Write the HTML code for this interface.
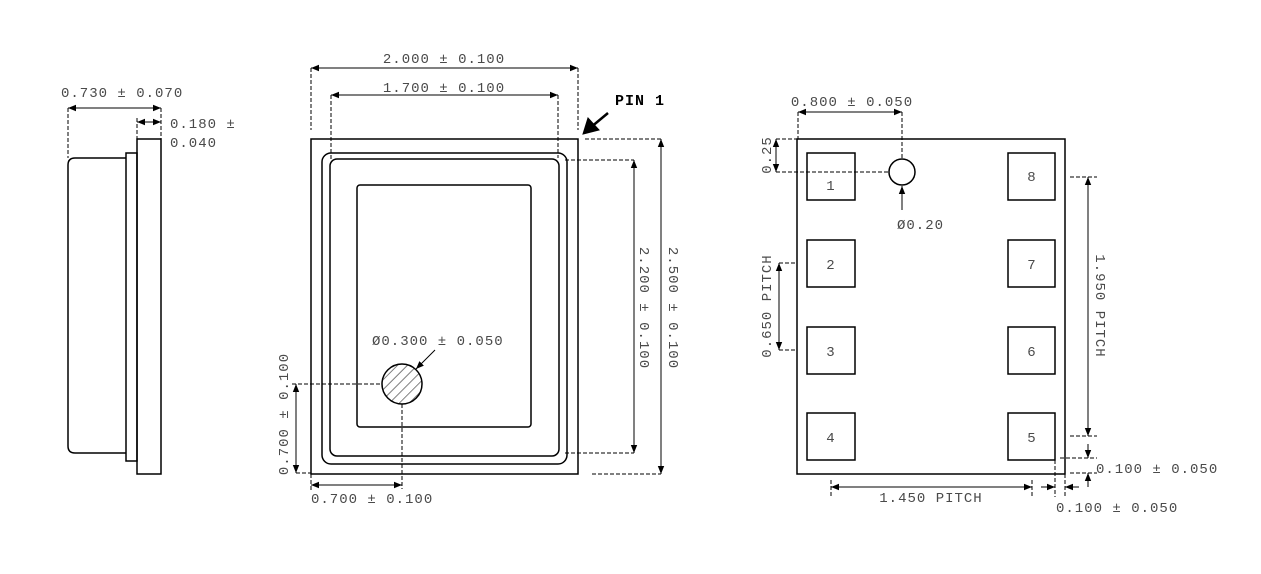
<!DOCTYPE html>
<html><head><meta charset="utf-8"><style>
html,body{margin:0;padding:0;background:#fff;}
svg{display:block;}
text{font-family:"Liberation Mono",monospace;font-size:14px;letter-spacing:1px;fill:#4a4a4a;}
</style></head><body>
<svg width="1261" height="574" viewBox="0 0 1261 574" xmlns="http://www.w3.org/2000/svg">
<defs>
<marker id="a" viewBox="0 0 10 10" refX="10" refY="5" markerWidth="8" markerHeight="8" orient="auto-start-reverse" markerUnits="userSpaceOnUse"><path d="M0,1 L10,5 L0,9 z" fill="#000"/></marker>
<pattern id="h" width="7" height="7" patternUnits="userSpaceOnUse" patternTransform="rotate(45)"><line x1="0" y1="0" x2="0" y2="7" stroke="#555" stroke-width="1.5"/></pattern>
</defs>
<g fill="none" stroke="#000" stroke-width="1.5">
<path d="M126,158 H75 Q68,158 68,165 V446 Q68,453 75,453 H126"/>
<rect x="126" y="153" width="11" height="308"/>
<rect x="137" y="139" width="24" height="335"/>
<rect x="311" y="139" width="267" height="335"/>
<rect x="322" y="153" width="245" height="311" rx="9"/>
<rect x="330" y="159" width="229" height="297" rx="7"/>
<rect x="357" y="185" width="174" height="242" rx="3"/>
<circle cx="402" cy="384" r="20" fill="url(#h)"/>
<rect x="797" y="139" width="268" height="335"/>
<rect x="807" y="153" width="48" height="47"/><rect x="807" y="240" width="48" height="47"/>
<rect x="807" y="327" width="48" height="47"/><rect x="807" y="413" width="48" height="47"/>
<rect x="1008" y="153" width="47" height="47"/><rect x="1008" y="240" width="47" height="47"/>
<rect x="1008" y="327" width="47" height="47"/><rect x="1008" y="413" width="47" height="47"/>
<circle cx="902" cy="172" r="13"/>
</g>
<g fill="none" stroke="#000" stroke-width="1" stroke-dasharray="4,2">
<path d="M68,108V158 M161,108V139 M137,118V139"/>
<path d="M311,68V130 M578,68V130 M331,95V160 M558,95V158"/>
<path d="M585,139H661 M592,474H661 M565,160H634 M565,453H634"/>
<path d="M292,384H382 M402,404V489 M296,473H311 M311,474V492"/>
<path d="M798,112V139 M902,112V159 M776,139H797 M776,172H889 M779,263H797 M779,350H797"/>
<path d="M1070,177H1097 M1070,436H1097 M1060,458H1097 M1070,473H1097"/>
<path d="M831,480V497 M1032,480V497 M1055,460V497 M1065,474V497"/>
</g>
<g stroke="#000" stroke-width="1" fill="none">
<line x1="68" y1="108" x2="161" y2="108" marker-start="url(#a)" marker-end="url(#a)"/>
<line x1="137" y1="122" x2="161" y2="122" marker-start="url(#a)" marker-end="url(#a)"/>
<line x1="311" y1="68" x2="578" y2="68" marker-start="url(#a)" marker-end="url(#a)"/>
<line x1="331" y1="95" x2="558" y2="95" marker-start="url(#a)" marker-end="url(#a)"/>
<line x1="661" y1="139" x2="661" y2="474" marker-start="url(#a)" marker-end="url(#a)"/>
<line x1="634" y1="160" x2="634" y2="453" marker-start="url(#a)" marker-end="url(#a)"/>
<line x1="296" y1="384" x2="296" y2="473" marker-start="url(#a)" marker-end="url(#a)"/>
<line x1="311" y1="485" x2="402" y2="485" marker-start="url(#a)" marker-end="url(#a)"/>
<line x1="435" y1="350" x2="416" y2="369" marker-end="url(#a)"/>
<line x1="608" y1="113" x2="590" y2="128" stroke-width="2.5"/>
<path d="M583,134 L588,118 L599,130 z" fill="#000" stroke-width="1"/>
<line x1="798" y1="112" x2="902" y2="112" marker-start="url(#a)" marker-end="url(#a)"/>
<line x1="776" y1="139" x2="776" y2="172" marker-start="url(#a)" marker-end="url(#a)"/>
<line x1="902" y1="210" x2="902" y2="186" marker-end="url(#a)"/>
<line x1="779" y1="263" x2="779" y2="350" marker-start="url(#a)" marker-end="url(#a)"/>
<line x1="1088" y1="177" x2="1088" y2="436" marker-start="url(#a)" marker-end="url(#a)"/>
<line x1="1088" y1="444" x2="1088" y2="458" marker-end="url(#a)"/>
<line x1="1088" y1="487" x2="1088" y2="473" marker-end="url(#a)"/>
<line x1="831" y1="487" x2="1032" y2="487" marker-start="url(#a)" marker-end="url(#a)"/>
<line x1="1041" y1="487" x2="1055" y2="487" marker-end="url(#a)"/>
<line x1="1079" y1="487" x2="1065" y2="487" marker-end="url(#a)"/>
</g>
<text x="61" y="97">0.730 ± 0.070</text>
<text x="170" y="128">0.180 ±</text>
<text x="170" y="147">0.040</text>
<text x="444" y="63" text-anchor="middle">2.000 ± 0.100</text>
<text x="444" y="92" text-anchor="middle">1.700 ± 0.100</text>
<text x="615" y="105" style="font-weight:bold;font-size:15px;fill:#000">PIN 1</text>
<text transform="translate(640,308) rotate(90)" text-anchor="middle">2.200 ± 0.100</text>
<text transform="translate(669,308) rotate(90)" text-anchor="middle">2.500 ± 0.100</text>
<text x="372" y="345">Ø0.300 ± 0.050</text>
<text transform="translate(288,414) rotate(-90)" text-anchor="middle">0.700 ± 0.100</text>
<text x="311" y="503">0.700 ± 0.100</text>
<text x="852" y="106" text-anchor="middle">0.800 ± 0.050</text>
<text transform="translate(771,155) rotate(-90)" text-anchor="middle">0.25</text>
<text x="897" y="229">Ø0.20</text>
<text transform="translate(771,306) rotate(-90)" text-anchor="middle">0.650 PITCH</text>
<text transform="translate(1096,306) rotate(90)" text-anchor="middle">1.950 PITCH</text>
<text x="1096" y="473">0.100 ± 0.050</text>
<text x="931" y="502" text-anchor="middle">1.450 PITCH</text>
<text x="1056" y="512">0.100 ± 0.050</text>
<g style="fill:#6b4a3a">
<text x="831" y="190" text-anchor="middle">1</text><text x="831" y="269" text-anchor="middle">2</text>
<text x="831" y="356" text-anchor="middle">3</text><text x="831" y="442" text-anchor="middle">4</text>
<text x="1032" y="442" text-anchor="middle">5</text><text x="1032" y="356" text-anchor="middle">6</text>
<text x="1032" y="269" text-anchor="middle">7</text><text x="1032" y="181" text-anchor="middle">8</text>
</g>
</svg>
</body></html>
